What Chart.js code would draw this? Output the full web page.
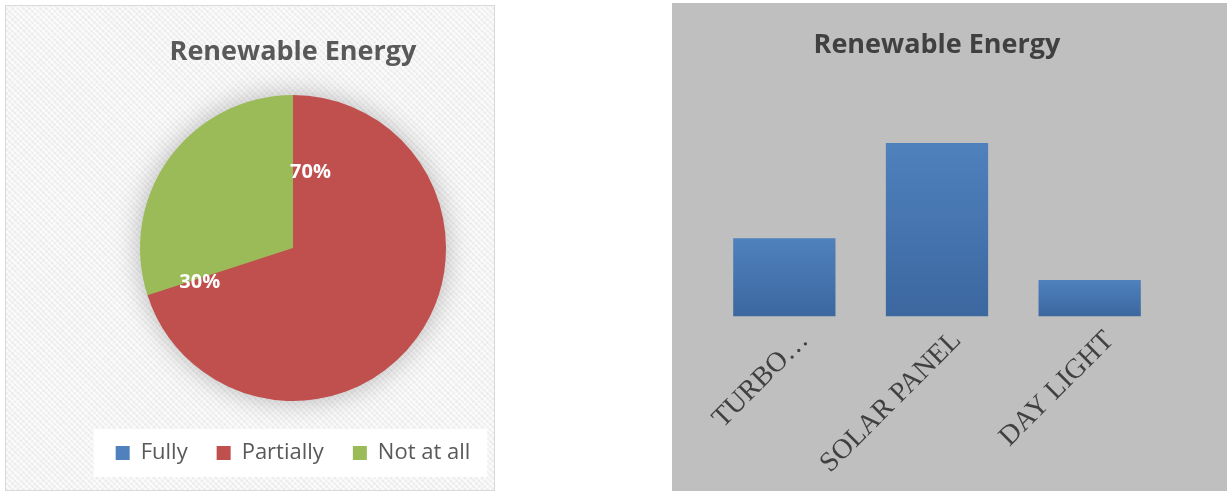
<!DOCTYPE html>
<html>
<head>
<meta charset="utf-8">
<script src="https://cdn.jsdelivr.net/npm/chart.js@4.4.1/dist/chart.umd.min.js"></script>
<style>
  html, body { margin: 0; padding: 0; background: #fff; }
  body { width: 1227px; height: 491px; position: relative; overflow: hidden; }
  #left {
    position: absolute; left: 5px; top: 5px; width: 488px; height: 484px;
    border: 1px solid #d9d9d9; overflow: hidden;
    background-color: #f7f7f7;
    background-image:
      repeating-linear-gradient(45deg, rgba(0,0,0,0.025) 0 2px, rgba(255,255,255,0.4) 2px 4px),
      repeating-linear-gradient(-45deg, rgba(0,0,0,0.02) 0 2px, rgba(255,255,255,0.3) 2px 4px);
  }
  #right { position: absolute; left: 672px; top: 3px; width: 555px; height: 488px; background: #bfbfbf; }
</style>
</head>
<body>
<div id="left"><canvas id="pie" width="574" height="484"></canvas></div>
<div id="right"><canvas id="bar" width="555" height="488"></canvas></div>
<script>
// données
const pieLabels = ['Fully', 'Partially', 'Not at all'];
const pieValues = [0, 70, 30];
const pieColors = ['#4f81bd', '#c0504d', '#9bbb59'];

const barLabels = ['TURBO…', 'SOLAR PANEL', 'DAY LIGHT'];
const barValues = [9, 20, 4.2];

Chart.defaults.font.family = '"Open Sans", "DejaVu Sans", sans-serif';

// ombre douce derrière le camembert + boîte blanche de la légende
const pieDecor = {
  id: 'pieDecor',
  beforeDatasetsDraw(chart) {
    const arc = chart.getDatasetMeta(0).data[1];
    if (!arc) return;
    const ctx = chart.ctx;
    ctx.save();
    ctx.shadowColor = 'rgba(0,0,0,0.28)';
    ctx.shadowBlur = 28;
    ctx.fillStyle = '#c0504d';
    ctx.beginPath();
    ctx.arc(arc.x, arc.y, arc.outerRadius - 1, 0, Math.PI * 2);
    ctx.fill();
    ctx.restore();
  },
  beforeDraw(chart) {
    const lg = chart.legend;
    if (!lg || !lg.legendHitBoxes.length) return;
    const boxes = lg.legendHitBoxes;
    const x0 = boxes[0].left - 22;
    const last = boxes[boxes.length - 1];
    const x1 = last.left + last.width + 17;
    const ctx = chart.ctx;
    ctx.save();
    ctx.fillStyle = '#ffffff';
    ctx.fillRect(x0, boxes[0].top - 13, x1 - x0, boxes[0].height + 26);
    ctx.restore();
  }
};

// étiquettes de pourcentage
const pieLabelsPlugin = {
  id: 'pieLabels',
  afterDatasetsDraw(chart, args, opts) {
    const ctx = chart.ctx;
    const meta = chart.getDatasetMeta(0);
    const total = pieValues.reduce((a, b) => a + b, 0);
    ctx.save();
    ctx.fillStyle = '#ffffff';
    ctx.font = 'bold 20px "Open Sans", sans-serif';
    ctx.textAlign = 'center';
    ctx.textBaseline = 'middle';
    meta.data.forEach((arc, i) => {
      if (!pieValues[i]) return;
      const place = opts.place[i];
      const a = arc.startAngle + place[0] * Math.PI / 180;
      const r = arc.outerRadius * place[1];
      const txt = Math.round(pieValues[i] / total * 100) + '%';
      ctx.fillText(txt, arc.x + Math.cos(a) * r, arc.y + Math.sin(a) * r);
    });
    ctx.restore();
  }
};

new Chart(document.getElementById('pie'), {
  type: 'pie',
  data: {
    labels: pieLabels,
    datasets: [{ data: pieValues, backgroundColor: pieColors, borderWidth: 0 }]
  },
  options: {
    responsive: false,
    animation: false,
    layout: { padding: { left: 0, right: 0, top: 30, bottom: 16 } },
    plugins: {
      title: {
        display: true,
        text: 'Renewable Energy',
        color: '#595959',
        font: { size: 27, weight: 'bold' },
        padding: { top: 0, bottom: 26.6 }
      },
      legend: {
        position: 'bottom',
        title: { display: true, text: '', font: { size: 10 }, padding: 0 },
        labels: { color: '#595959', font: { size: 22 }, boxWidth: 14, boxHeight: 14, padding: 29 }
      },
      tooltip: { enabled: false },
      pieLabels: { place: [null, [13, 0.51], [-2.3, 0.65]] }
    }
  },
  plugins: [pieDecor, pieLabelsPlugin]
});

// dégradé vertical par barre
function barFill(ctx) {
  const chart = ctx.chart;
  const y = chart.scales.y;
  if (!y || !chart.chartArea || ctx.type !== 'data') return '#4a7ab5';
  const top = y.getPixelForValue(ctx.parsed ? ctx.parsed.y : barValues[ctx.dataIndex]);
  const base = y.getPixelForValue(0);
  const g = chart.ctx.createLinearGradient(0, top, 0, base);
  g.addColorStop(0, '#4f81bd');
  g.addColorStop(1, '#3c679f');
  return g;
}

new Chart(document.getElementById('bar'), {
  type: 'bar',
  data: {
    labels: barLabels,
    datasets: [{ data: barValues, backgroundColor: barFill, borderWidth: 0, categoryPercentage: 1, barPercentage: 0.67 }]
  },
  options: {
    responsive: false,
    animation: false,
    layout: { padding: { left: 36, right: 61, top: 26, bottom: 3 } },
    plugins: {
      legend: { display: false },
      tooltip: { enabled: false },
      title: {
        display: true,
        text: 'Renewable Energy',
        color: '#404040',
        font: { size: 27, weight: 'bold' },
        padding: { top: 0, bottom: 81.6 }
      }
    },
    scales: {
      y: { display: false, min: 0, max: 20 },
      x: {
        grid: { display: false, drawTicks: false },
        border: { display: false },
        ticks: {
          color: '#404040',
          font: { family: '"Liberation Serif", "Times New Roman", serif', size: 28 },
          minRotation: 45, maxRotation: 45, autoSkip: false,
          padding: 8, labelOffset: 20
        }
      }
    }
  }
});
</script>
</body>
</html>
